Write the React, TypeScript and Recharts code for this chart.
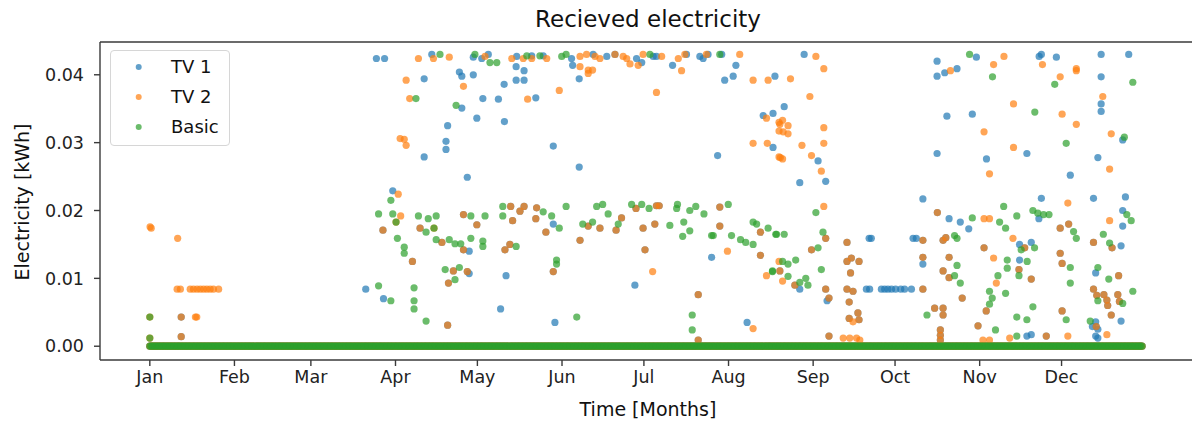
import { ReferenceLine, Scatter, ScatterChart, XAxis, YAxis } from "recharts";

// x = day of year (0 = Jan 1), y = kWh
const monthStarts = [0, 31, 59, 90, 120, 151, 181, 212, 243, 273, 304, 334];
const monthNames = ["Jan", "Feb", "Mar", "Apr", "May", "Jun", "Jul", "Aug", "Sep", "Oct", "Nov", "Dec"];
const yTicks = [0, 0.01, 0.02, 0.03, 0.04];

// hours with nothing received sit on the zero line all year long (half-day grid)
const zeroGridStart = 0;
const zeroGridEnd = 363.5;
const zeroGridStep = 0.5;

const tv1Points: [number, number][] = [
  [79.1, 0.0084], [83, 0.0424], [86, 0.0424], [85.6, 0.007], [89, 0.0229],
  [103.3, 0.043], [118.5, 0.0426], [124, 0.043], [121.6, 0.0424], [134.4, 0.0427], [139.9, 0.0428],
  [144.1, 0.0428], [154.5, 0.0424], [154.9, 0.0414], [162.4, 0.043], [167.4, 0.0427], [170.4, 0.043],
  [178.3, 0.0424], [180.2, 0.0418], [184.4, 0.0427], [185.6, 0.0427], [191.5, 0.0414], [196.6, 0.043],
  [201.5, 0.0427], [202.7, 0.0424], [204.5, 0.043], [209.5, 0.043], [214.7, 0.0414],
  [113.4, 0.0404], [114.3, 0.0398], [118.5, 0.04], [100.5, 0.0394], [129.8, 0.0386], [134.2, 0.0412],
  [137.1, 0.0406], [134.2, 0.0392], [137.1, 0.0392], [157.3, 0.0394], [210.6, 0.0392], [213.7, 0.0398],
  [229, 0.0398], [122, 0.0365], [127.7, 0.0364], [141.4, 0.0366], [114.3, 0.0351], [119.8, 0.0336],
  [129.9, 0.0331], [109.1, 0.0325], [108.5, 0.0302], [108.5, 0.029], [147.8, 0.0295], [100.5, 0.0279],
  [157.3, 0.0264], [116.3, 0.0249], [208, 0.0281], [228.3, 0.0293], [224.7, 0.034], [228.3, 0.0343],
  [117, 0.014], [117, 0.0107], [130.5, 0.0104], [128.5, 0.0055], [147.8, 0.018], [148.4, 0.0035],
  [177.7, 0.009], [205.8, 0.0131], [218.8, 0.0035],
  [239.7, 0.043], [232.4, 0.0353], [244.8, 0.0273], [238.1, 0.0241], [247.6, 0.0243], [238.1, 0.0084],
  [248.1, 0.0067], [263.5, 0.0159], [264.3, 0.0159], [279.6, 0.0159], [280.8, 0.0159],
  [262.5, 0.0084], [263.7, 0.0084], [268, 0.0084], [269.2, 0.0084], [270.4, 0.0084], [271.7, 0.0084],
  [273.2, 0.0084], [275.1, 0.0084], [276.5, 0.0084], [279, 0.0084], [283.2, 0.0121],
  [288.4, 0.042], [288.4, 0.0398], [291.2, 0.0403], [295.7, 0.0409], [302.8, 0.0426], [292, 0.0339],
  [301.3, 0.0342], [288.4, 0.0284], [283.2, 0.0217], [288.5, 0.0197], [292.8, 0.0188], [296.9, 0.0183],
  [300, 0.0173], [306.5, 0.0276], [325.8, 0.0427], [326.6, 0.043], [332.1, 0.0426], [321.3, 0.0284],
  [326.6, 0.0218], [325.7, 0.0188], [318.6, 0.015], [322.9, 0.0153], [318.6, 0.0127], [322.9, 0.0017],
  [321.3, 0.0015], [337.2, 0.0252], [345.7, 0.0218], [347.3, 0.0278], [348.5, 0.0346], [348.5, 0.0357],
  [348.5, 0.0397], [348.5, 0.043], [358.6, 0.043], [356.4, 0.0304], [357.4, 0.022], [356.4, 0.02],
  [356.4, 0.0177], [355.8, 0.0148], [346.5, 0.0108], [355.8, 0.0037], [346.5, 0.0036], [345.3, 0.0029],
  [347.3, 0.0025], [346.5, 0.0015], [347.3, 0.0012],
  // hours where TV 1 got the same amount as TV 2 (brown dots, orange over blue)
  [11.5, 0.0043], [11.5, 0.0014], [85.4, 0.0171], [96.2, 0.0125], [109.1, 0.0031], [99, 0.0174],
  [107, 0.0153], [114.9, 0.0194], [114.9, 0.0142], [119.8, 0.0179], [111.2, 0.0111], [116.3, 0.011],
  [109.4, 0.0093], [132.2, 0.0206], [135.6, 0.0199], [137.1, 0.0206], [132.9, 0.0185], [130.1, 0.0142],
  [131.9, 0.015], [141.7, 0.0204], [141.4, 0.0188], [145.1, 0.0168], [147.8, 0.011], [157.6, 0.0156],
  [160.6, 0.0177], [164.9, 0.0174], [170.8, 0.0171], [172.8, 0.0189], [178.1, 0.0203], [185.6, 0.0207],
  [186.6, 0.0207], [180.7, 0.0174], [185, 0.018], [181.4, 0.0142], [208.8, 0.0205], [208.8, 0.0177],
  [223.7, 0.0168], [223.7, 0.0134], [200.9, 0.0076], [200.9, 0.0009],
  [242.4, 0.0142], [230.8, 0.0111], [236.3, 0.009], [247.6, 0.0159], [247.6, 0.0084], [248.8, 0.0071],
  [248.8, 0.0015], [255.4, 0.0153], [255.4, 0.0125], [257, 0.013], [259.8, 0.0125], [256.7, 0.0108],
  [255.4, 0.0084], [257.6, 0.0081], [256.2, 0.0065], [259.4, 0.0049], [256.2, 0.0041], [259.8, 0.0039],
  [283.2, 0.0156], [283.2, 0.0131], [283.2, 0.0084], [287.5, 0.0056], [290.6, 0.0056], [290.6, 0.0046],
  [289.6, 0.0024], [289.6, 0.0016], [289.6, 0.0009], [290.6, 0.0156], [291.6, 0.016], [292.8, 0.0131],
  [290.6, 0.0111], [292.8, 0.0101], [297.6, 0.0071], [305.6, 0.0145], [306.4, 0.0052], [303.4, 0.003],
  [320.5, 0.0145], [318.4, 0.0113], [322.9, 0.0099], [333.5, 0.0174], [336.6, 0.018], [333.5, 0.0137],
  [334.2, 0.0122], [334.2, 0.0052], [328.4, 0.0015], [352.5, 0.0145], [345.7, 0.0153], [354.9, 0.0104],
  [345.7, 0.0084], [346.9, 0.0075], [349.5, 0.0076], [350.6, 0.0068], [350.9, 0.006], [354.6, 0.0076],
  [355.2, 0.0066], [352.2, 0.0046], [346.7, 0.0029],
];

const tv2Points: [number, number][] = [
  [0.1, 0.0176], [0.5, 0.0174], [0, 0.0043], [0, 0.0012], [10.2, 0.0159],
  [10, 0.0084], [11.2, 0.0084], [14.8, 0.0084], [16, 0.0084], [17.3, 0.0084], [18.5, 0.0084],
  [19.7, 0.0084], [20.9, 0.0084], [22.1, 0.0084], [23.3, 0.0084], [25.2, 0.0084],
  [11.5, 0.0043], [16.7, 0.0043], [17.2, 0.0043], [11.5, 0.0014],
  [85.4, 0.0171], [90.2, 0.0183], [91, 0.0224], [91.7, 0.0306], [91.9, 0.0192],
  [98.4, 0.0424], [103.9, 0.0424], [109.7, 0.0426], [122.8, 0.0427], [132.6, 0.0424], [136.8, 0.0424],
  [139.9, 0.0424], [145.4, 0.0424], [157.6, 0.0427], [160, 0.043], [163.1, 0.0427], [164.9, 0.0424],
  [170.4, 0.043], [173.4, 0.0427], [174.7, 0.0424], [175.9, 0.0416], [178.9, 0.0414], [180.7, 0.043],
  [187.5, 0.0427], [193.6, 0.0424], [196, 0.043], [203.9, 0.043], [216.1, 0.043],
  [93.9, 0.0392], [114.9, 0.0383], [157.6, 0.0412], [160.6, 0.0407], [160.6, 0.0402], [162.2, 0.0407],
  [194.8, 0.0406], [150, 0.0377], [185.6, 0.0374], [221, 0.0392], [226.5, 0.0392],
  [95.2, 0.0365], [138.4, 0.0364], [93.2, 0.0305], [93.9, 0.0296], [221, 0.0299], [226.2, 0.0299],
  [225.9, 0.0336], [230.5, 0.033], [230.5, 0.0317], [230.5, 0.0279],
  [96.2, 0.0125], [109.1, 0.0031], [99, 0.0174], [104.1, 0.0174], [107, 0.0153], [114.9, 0.0194],
  [114.9, 0.0142], [119.8, 0.0179], [111.2, 0.0111], [116.3, 0.011], [109.4, 0.0093], [132.2, 0.0206],
  [135.6, 0.0199], [137.1, 0.0206], [132.9, 0.0185], [130.1, 0.0142], [131.9, 0.015], [141.7, 0.0204],
  [141.4, 0.0188], [145.1, 0.0168], [147.8, 0.011], [157.6, 0.0156], [160.6, 0.0177], [164.9, 0.0174],
  [170.8, 0.0171], [172.8, 0.0189], [178.1, 0.0203], [185.6, 0.0207], [186.6, 0.0207], [180.7, 0.0174],
  [185, 0.018], [181.4, 0.0142], [184.2, 0.011], [208.8, 0.0205], [208.8, 0.0177], [211.6, 0.014],
  [223.7, 0.0168], [223.7, 0.0134], [225.9, 0.0104], [230.5, 0.0125], [200.9, 0.0076], [200.9, 0.0009],
  [221, 0.0026],
  [234.7, 0.0394], [244, 0.0427], [246.9, 0.0409], [241.8, 0.0368], [231.8, 0.0333], [230.8, 0.0327],
  [233.8, 0.0325], [232, 0.0316], [233.8, 0.0313], [246.9, 0.0322], [246.9, 0.0299], [238.9, 0.0296],
  [231, 0.0278], [231.8, 0.0276], [242.4, 0.0281], [246, 0.0258], [246.9, 0.0206], [247.6, 0.0159],
  [242.4, 0.0142], [230.8, 0.0111], [231.8, 0.0096], [236.3, 0.009], [247.6, 0.0084], [248.8, 0.0071],
  [248.8, 0.0015],
  [255.4, 0.0153], [255.4, 0.0125], [257, 0.013], [259.8, 0.0125], [256.7, 0.0108], [255.4, 0.0084],
  [257.6, 0.0081], [256.2, 0.0065], [259.4, 0.0049], [256.2, 0.0041], [257.6, 0.0036], [259.8, 0.0039],
  [254, 0.0012], [256.4, 0.0012], [258.9, 0.0012], [260.1, 0.0009],
  [283.2, 0.0156], [283.2, 0.0131], [283.2, 0.0084], [287.5, 0.0056], [290.6, 0.0056], [290.6, 0.0046],
  [289.6, 0.0024], [289.6, 0.0016], [289.6, 0.0009],
  [293.3, 0.0406], [288.5, 0.0197], [305.6, 0.0188], [307.6, 0.0188], [290.6, 0.0156], [291.6, 0.016],
  [292.8, 0.0131], [290.6, 0.0111], [292.8, 0.0101], [297.6, 0.0071], [305.6, 0.0316], [307.6, 0.0254],
  [316.4, 0.0357], [316.4, 0.0293], [312.9, 0.0427], [309.1, 0.0415], [305.6, 0.0145], [309.1, 0.013],
  [316.2, 0.0159], [310.1, 0.0093], [306.4, 0.0052], [303.4, 0.003], [305.2, 0.0009], [307.6, 0.0009],
  [315, 0.0012],
  [327, 0.0415], [333.5, 0.0397], [339.4, 0.0409], [339.4, 0.0406], [334.2, 0.0342], [339.4, 0.0327],
  [336.3, 0.0211], [320.5, 0.0145], [318.4, 0.0113], [322.9, 0.0099], [333.5, 0.0174], [336.6, 0.018],
  [333.5, 0.0137], [334.2, 0.0122], [334.2, 0.0052], [336.3, 0.0015], [328.4, 0.0015],
  [349.1, 0.0368], [352.2, 0.0313], [351.6, 0.0261], [351.6, 0.0185], [352.5, 0.0145], [345.7, 0.0153],
  [354.9, 0.0104], [345.7, 0.0084], [346.9, 0.0075], [349.5, 0.0076], [350.6, 0.0068], [350.9, 0.006],
  [354.6, 0.0076], [355.2, 0.0066], [352.2, 0.0046], [346.7, 0.0029], [350.6, 0.0017],
];

const basicPoints: [number, number][] = [
  [0, 0.0043], [0, 0.0012],
  [83.8, 0.0089], [88.3, 0.0067], [83.8, 0.0195], [89, 0.0195], [88.3, 0.0215],
  [90.2, 0.0183], [90.7, 0.0159],
  [106.3, 0.043], [119.1, 0.043], [124.6, 0.0418], [127.1, 0.0418], [138.1, 0.0428], [142.9, 0.0428],
  [150.9, 0.0427], [152.5, 0.043], [183.2, 0.043], [208.8, 0.043], [97.5, 0.0365], [112.2, 0.0355],
  [93.2, 0.0146], [93.2, 0.0137], [96.8, 0.0086], [96.8, 0.0067], [96.8, 0.0055],
  [101.2, 0.0037], [98.4, 0.0192], [102, 0.0188], [104.9, 0.0192], [101.2, 0.0168], [104.1, 0.0174],
  [104.9, 0.0157], [109.7, 0.0157], [111.8, 0.0151], [113.9, 0.0151], [117.6, 0.0192], [122.8, 0.0192],
  [117.6, 0.0159], [122, 0.0155], [122, 0.0147], [108.2, 0.0113], [113.4, 0.0116], [111.8, 0.0098],
  [129.3, 0.0206], [129.3, 0.0192], [134.2, 0.0147], [144.1, 0.0198], [147.2, 0.0192], [150, 0.0174],
  [149, 0.0127], [149, 0.0121], [156.4, 0.0043], [152.5, 0.0206], [158.6, 0.018], [162.2, 0.0183],
  [163.7, 0.0206], [165.9, 0.0209], [167.9, 0.0195], [171.6, 0.018], [176.5, 0.0209], [180.2, 0.0209],
  [182.9, 0.0203], [190.5, 0.0178], [193.3, 0.0209], [193, 0.0203], [195.6, 0.0183], [195.2, 0.0162],
  [197.8, 0.017], [197.8, 0.02], [200, 0.0206], [203, 0.0195], [205.8, 0.0163], [206.4, 0.0163],
  [211.9, 0.0209], [213.1, 0.0163], [216.4, 0.0157], [218.3, 0.0153], [221, 0.015], [221, 0.0183],
  [222.3, 0.018], [226.5, 0.0174], [229.3, 0.0165], [228.1, 0.011], [198.7, 0.0046], [198.7, 0.0024],
  [244, 0.0197], [246.6, 0.0168], [229.6, 0.0165], [232.4, 0.0165], [244.8, 0.0145], [231.8, 0.0125],
  [233.8, 0.0121], [236.6, 0.0127], [228.1, 0.0111], [233.8, 0.0103], [238.1, 0.0094], [240.3, 0.01],
  [241.1, 0.009], [246, 0.0113],
  [284.7, 0.0046], [300.3, 0.043], [301.3, 0.0189], [311.3, 0.0183], [313.5, 0.0174], [312.8, 0.0206],
  [317.6, 0.0192], [294.8, 0.0163], [295.7, 0.0159], [295.7, 0.0119], [294.8, 0.0104], [296.9, 0.0093],
  [308.7, 0.0397], [314.1, 0.0127], [314.1, 0.0115], [310.7, 0.0104], [307.6, 0.0081], [308.6, 0.0071],
  [307.6, 0.0062], [309.8, 0.0024], [313.5, 0.0078], [317.6, 0.0043], [317.6, 0.0015],
  [324.2, 0.0345], [331.5, 0.0386], [335.7, 0.0299], [323.5, 0.02], [325.3, 0.0196], [327.4, 0.0194],
  [329.4, 0.0194], [319.2, 0.0142], [324.1, 0.0145], [321.4, 0.0125], [318.4, 0.0104], [323.5, 0.0058],
  [321.3, 0.0039], [338.4, 0.0169], [339.4, 0.0159], [337.2, 0.0116], [337.2, 0.0093], [335.7, 0.0039],
  [360.1, 0.0389], [357, 0.0308], [357.9, 0.0194], [359.5, 0.0185], [349.3, 0.0165], [351.6, 0.0152],
  [347.3, 0.0116], [351.3, 0.0099], [347.3, 0.0067], [356.4, 0.0063], [360.1, 0.0081], [344.5, 0.0037],
];

const X_MIN = -18.25;
const X_MAX = 383.25;
const Y_MIN = -0.00203;
const Y_MAX = 0.04483;

const FONT = "'DejaVu Sans', sans-serif";
const AXIS = "#3a3a3a";

const zeroDays: number[] = [];
for (let d = zeroGridStart; d <= zeroGridEnd; d += zeroGridStep) zeroDays.push(d);

function toRows(points: [number, number][]) {
  return [
    ...zeroDays.map((x) => ({ x, y: 0 })),
    ...points.map(([x, y]) => ({ x, y })),
  ];
}

const series = [
  { name: "TV 1", color: "#1f77b4", points: tv1Points },
  { name: "TV 2", color: "#ff7f0e", points: tv2Points },
  { name: "Basic", color: "#2ca02c", points: basicPoints },
];

const dot = (color: string) => (props: any) =>
  props.cx == null ? <g /> : <circle cx={props.cx} cy={props.cy} r={3.6} fill={color} fillOpacity={0.7} />;

export default function App() {
  return (
    <div
      style={{
        position: "absolute",
        left: 0,
        top: 0,
        width: 1192,
        height: 425,
        overflow: "hidden",
        background: "#fff",
        fontFamily: FONT,
      }}
    >
      <ScatterChart width={1200} height={425} margin={{ top: 42, right: 4, bottom: 0, left: 0 }}>
        <XAxis
          type="number"
          dataKey="x"
          domain={[X_MIN, X_MAX]}
          allowDataOverflow
          ticks={monthStarts}
          tickFormatter={(v: number) => monthNames[monthStarts.indexOf(v)] ?? ""}
          height={65}
          tickSize={6}
          tickMargin={5}
          stroke={AXIS}
          strokeWidth={1.4}
          tick={{ fontSize: 17.5, fill: "#222", fontFamily: FONT }}
        />
        <YAxis
          type="number"
          dataKey="y"
          domain={[Y_MIN, Y_MAX]}
          allowDataOverflow
          ticks={yTicks}
          tickFormatter={(v: number) => v.toFixed(2)}
          width={100}
          tickSize={6}
          tickMargin={10}
          stroke={AXIS}
          strokeWidth={1.4}
          tick={{ fontSize: 17.5, fill: "#222", fontFamily: FONT }}
        />
        <ReferenceLine y={Y_MAX} stroke={AXIS} strokeWidth={1.4} />
        {series.map((s) => (
          <Scatter
            key={s.name}
            name={s.name}
            data={toRows(s.points)}
            fill={s.color}
            shape={dot(s.color)}
            isAnimationActive={false}
          />
        ))}
      </ScatterChart>

      <div
        style={{
          position: "absolute",
          left: 0,
          width: 1296,
          top: 6,
          textAlign: "center",
          fontSize: 23,
          color: "#111",
        }}
      >
        Recieved electricity
      </div>
      <div
        style={{
          position: "absolute",
          left: 0,
          width: 1296,
          top: 398,
          textAlign: "center",
          fontSize: 19,
          color: "#111",
        }}
      >
        Time [Months]
      </div>
      <div
        style={{
          position: "absolute",
          left: 22,
          top: 202,
          transform: "translate(-50%, -50%) rotate(-90deg)",
          fontSize: 19,
          color: "#111",
          whiteSpace: "nowrap",
        }}
      >
        Electricity [kWh]
      </div>

      <div
        style={{
          position: "absolute",
          left: 110,
          top: 50,
          width: 120,
          height: 96,
          boxSizing: "border-box",
          border: "1px solid #d6d6d6",
          borderRadius: 4,
          background: "rgba(255,255,255,0.8)",
        }}
      >
        {series.map((s, i) => (
          <div
            key={s.name}
            style={{
              position: "absolute",
              left: 0,
              top: 15.7 + i * 30 - 12,
              height: 24,
              display: "flex",
              alignItems: "center",
            }}
          >
            <svg width={60} height={24} style={{ display: "block" }}>
              <circle cx={27.7} cy={12} r={3} fill={s.color} fillOpacity={0.7} />
            </svg>
            <span style={{ fontSize: 18, color: "#111", lineHeight: "24px" }}>{s.name}</span>
          </div>
        ))}
      </div>
    </div>
  );
}
